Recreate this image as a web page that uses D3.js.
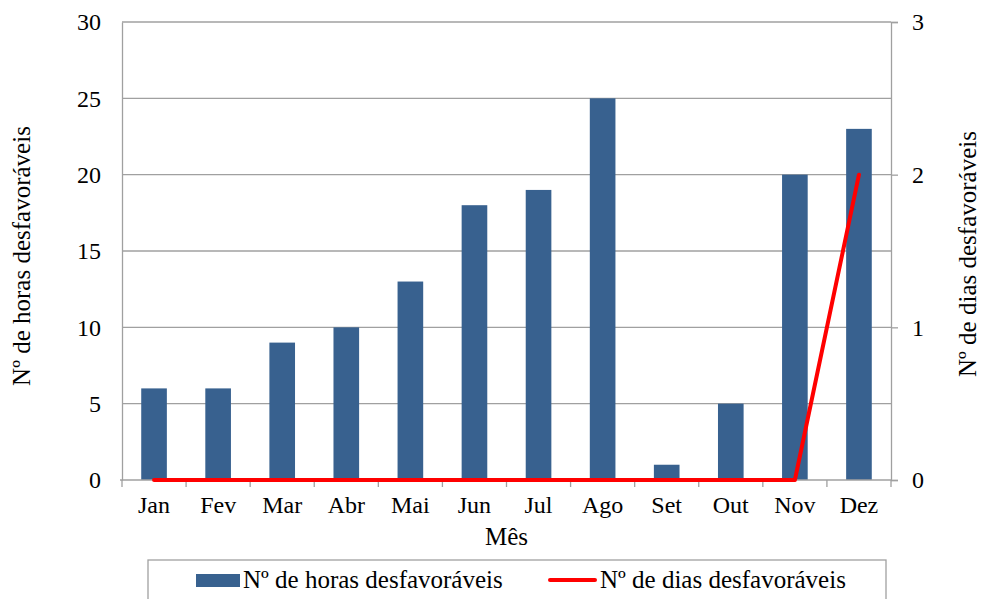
<!DOCTYPE html>
<html>
<head>
<meta charset="utf-8">
<script src="https://cdn.jsdelivr.net/npm/d3@7"></script>
<style>
  html, body { margin: 0; padding: 0; background: #fff; }
  svg { display: block; }
  text { font-family: "Liberation Serif", "Times New Roman", serif; fill: #000; }
</style>
</head>
<body>
<svg id="chart" width="981" height="599"></svg>
<script>
// Monthly counts of unfavourable hours (bars, left axis) and days (line, right axis)
const months = ["Jan", "Fev", "Mar", "Abr", "Mai", "Jun", "Jul", "Ago", "Set", "Out", "Nov", "Dez"];
const horas = [6, 6, 9, 10, 13, 18, 19, 25, 1, 5, 20, 23];
const dias = [0, 0, 0, 0, 0, 0, 0, 0, 0, 0, 0, 2];
const leftTicks = [0, 5, 10, 15, 20, 25, 30];
const rightTicks = [0, 1, 2, 3];
const serieHoras = "Nº de horas desfavoráveis";
const serieDias = "Nº de dias desfavoráveis";
const xTitle = "Mês";

const svg = d3.select("#chart");
const m = { left: 122, right: 891, top: 22, bottom: 480 };
const fontSize = 24;
const titleSize = 25;
const gridColor = "#a0a0a0";
const barColor = "#38618f";

const x = d3.scaleBand().domain(months).range([m.left, m.right]).paddingInner(0.6).paddingOuter(0.3);
const xb = d3.scaleBand().domain(months).range([m.left, m.right]);
const yL = d3.scaleLinear().domain([0, 30]).range([m.bottom, m.top]);
const yR = d3.scaleLinear().domain([0, 3]).range([m.bottom, m.top]);

// horizontal gridlines
svg.append("g").selectAll("line").data(leftTicks.filter(d => d > 0)).join("line")
  .attr("x1", m.left).attr("x2", m.right)
  .attr("y1", d => yL(d)).attr("y2", d => yL(d))
  .attr("stroke", gridColor).attr("stroke-width", 1.3);

// bars
svg.append("g").selectAll("rect").data(horas).join("rect")
  .attr("x", (d, i) => x(months[i]))
  .attr("width", x.bandwidth())
  .attr("y", d => yL(d))
  .attr("height", d => yL(0) - yL(d))
  .attr("fill", barColor);

// left axis
const axL = svg.append("g").attr("transform", `translate(${m.left},0)`)
  .call(d3.axisLeft(yL).tickValues(leftTicks).tickSize(0).tickPadding(21));
axL.select(".domain").attr("stroke", gridColor).attr("stroke-width", 1.3);
axL.selectAll("text").attr("font-size", fontSize);

// right axis
const axR = svg.append("g").attr("transform", `translate(${m.right},0)`)
  .call(d3.axisRight(yR).tickValues(rightTicks).tickFormat(d3.format("d")).tickSize(7).tickPadding(14));
axR.select(".domain").attr("stroke", gridColor).attr("stroke-width", 1.3);
axR.selectAll(".tick line").attr("stroke", gridColor).attr("stroke-width", 1.3);
axR.selectAll("text").attr("font-size", fontSize);

// bottom axis with ticks at category boundaries
const axB = svg.append("g").attr("transform", `translate(0,${m.bottom})`);
axB.append("line").attr("x1", m.left - 2).attr("x2", m.right).attr("y1", 0).attr("y2", 0)
  .attr("stroke", gridColor).attr("stroke-width", 1.3);
const bounds = months.map(d => xb(d)).concat([m.right]);
axB.selectAll("line.tk").data(bounds).join("line").attr("class", "tk")
  .attr("x1", d => d).attr("x2", d => d).attr("y1", 0).attr("y2", 7)
  .attr("stroke", gridColor).attr("stroke-width", 1.3);
axB.selectAll("text").data(months).join("text")
  .attr("x", d => xb(d) + xb.bandwidth() / 2).attr("y", 33)
  .attr("text-anchor", "middle").attr("font-size", fontSize).text(d => d);

// line series on the right axis
const line = d3.line().x((d, i) => xb(months[i]) + xb.bandwidth() / 2).y(d => yR(d));
svg.append("path").datum(dias).attr("d", line)
  .attr("fill", "none").attr("stroke", "#ff0000").attr("stroke-width", 4)
  .attr("stroke-linecap", "round").attr("stroke-linejoin", "round");

// axis titles
svg.append("text").attr("x", (m.left + m.right) / 2).attr("y", 545)
  .attr("text-anchor", "middle").attr("font-size", titleSize).text(xTitle);
svg.append("text").attr("transform", "translate(30,256) rotate(-90)")
  .attr("text-anchor", "middle").attr("font-size", titleSize).text(serieHoras);
svg.append("text").attr("transform", "translate(976,254) rotate(-90)")
  .attr("text-anchor", "middle").attr("font-size", titleSize).text(serieDias);

// legend
const lg = svg.append("g");
lg.append("rect").attr("x", 148).attr("y", 560).attr("width", 738).attr("height", 60)
  .attr("fill", "#fff").attr("stroke", gridColor).attr("stroke-width", 1.3);
lg.append("rect").attr("x", 196).attr("y", 574).attr("width", 44).attr("height", 13).attr("fill", barColor);
lg.append("text").attr("x", 243).attr("y", 588).attr("font-size", titleSize).text(serieHoras);
lg.append("line").attr("x1", 550).attr("x2", 595).attr("y1", 580).attr("y2", 580)
  .attr("stroke", "#ff0000").attr("stroke-width", 4).attr("stroke-linecap", "round");
lg.append("text").attr("x", 600).attr("y", 588).attr("font-size", titleSize).text(serieDias);
</script>
</body>
</html>
